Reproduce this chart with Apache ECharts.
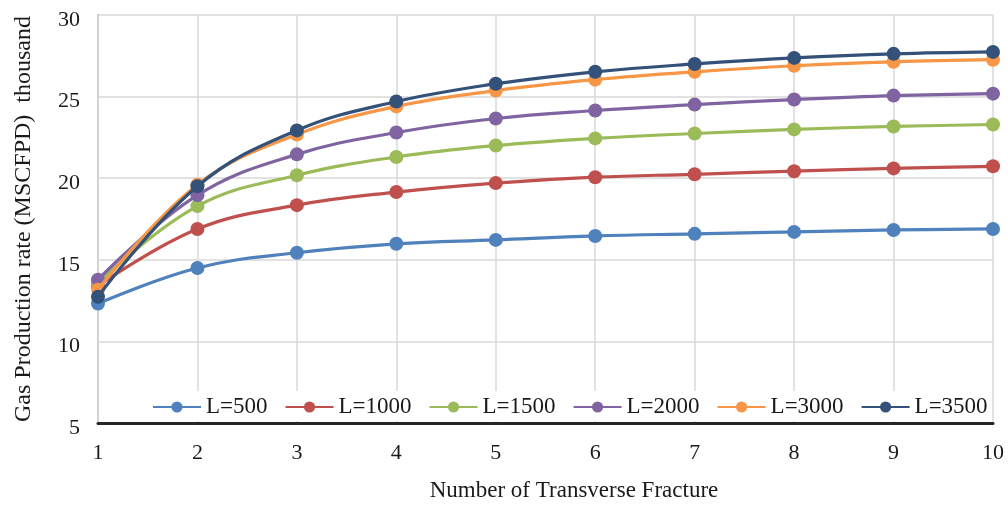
<!DOCTYPE html>
<html>
<head>
<meta charset="utf-8">
<script src="https://cdn.jsdelivr.net/npm/echarts@6/dist/echarts.min.js"></script>
<style>html,body{margin:0;padding:0;background:#fff;}#c{width:1008px;height:507px;}</style>
</head>
<body>
<div id="c"></div>
<script>
var categories = ['1','2','3','4','5','6','7','8','9','10'];
var seriesNames = ['L=500','L=1000','L=1500','L=2000','L=3000','L=3500'];
var L500  = [12.32, 14.50, 15.43, 15.98, 16.22, 16.46, 16.59, 16.71, 16.83, 16.89];
var L1000 = [13.40, 16.89, 18.35, 19.15, 19.70, 20.06, 20.24, 20.43, 20.60, 20.73];
var L1500 = [13.60, 18.29, 20.18, 21.30, 22.00, 22.44, 22.74, 22.99, 23.17, 23.29];
var L2000 = [13.78, 18.96, 21.46, 22.80, 23.66, 24.15, 24.51, 24.82, 25.06, 25.18];
var L3000 = [13.17, 19.60, 22.68, 24.40, 25.37, 26.04, 26.52, 26.89, 27.13, 27.26];
var L3500 = [12.74, 19.51, 22.93, 24.70, 25.79, 26.52, 27.00, 27.37, 27.62, 27.74];
var yTicks = {min: 5, max: 30, interval: 5};

var colors = ['#4f81bd','#c0504d','#9bbb59','#8064a2','#f79646','#34517a'];
var allData = [L500, L1000, L1500, L2000, L3000, L3500];
var font = '"Liberation Serif", "Times New Roman", serif';

var chart = echarts.init(document.getElementById('c'));
chart.setOption({
  animation: false,
  color: colors,
  grid: {left: 98, right: 15, top: 15, bottom: 82, containLabel: false},
  legend: {
    data: seriesNames,
    left: 148, top: 391,
    padding: [3, 4, 1, 4],
    backgroundColor: '#ffffff',
    itemWidth: 48, itemHeight: 14, itemGap: 17,
    textStyle: {fontFamily: font, fontSize: 23, color: '#1a1a1a', lineHeight: 26}
  },
  xAxis: {
    type: 'category',
    data: categories,
    boundaryGap: false,
    name: 'Number of Transverse Fracture',
    nameLocation: 'middle',
    nameGap: 56,
    nameTextStyle: {fontFamily: font, fontSize: 23, color: '#1a1a1a', padding: [0, 0, 0, 57], verticalAlign: 'top'},
    axisLine: {show: true, lineStyle: {color: '#262626', width: 3}},
    axisTick: {show: false},
    axisLabel: {fontFamily: font, fontSize: 22, color: '#1a1a1a', margin: 19},
    splitLine: {show: true, lineStyle: {color: '#d9d9d9', width: 1.5}},
    z: 3
  },
  yAxis: {
    type: 'value',
    min: yTicks.min, max: yTicks.max, interval: yTicks.interval,
    name: 'Gas Production rate (MSCFPD)  thousand',
    nameLocation: 'middle',
    nameGap: 62,
    nameRotate: 90,
    nameTextStyle: {fontFamily: font, fontSize: 24, color: '#1a1a1a'},
    axisLine: {show: true, lineStyle: {color: '#bfbfbf', width: 2}},
    axisTick: {show: false},
    axisLabel: {fontFamily: font, fontSize: 22, color: '#1a1a1a', margin: 18, verticalAlign: 'top', lineHeight: 10},
    splitLine: {show: true, lineStyle: {color: '#d9d9d9', width: 1.5}}
  },
  series: allData.map(function (d, i) {
    return {
      name: seriesNames[i],
      type: 'line',
      data: d,
      smooth: 0.4,
      symbol: 'circle',
      symbolSize: 14,
      lineStyle: {width: 3.2, color: colors[i]},
      itemStyle: {color: colors[i]},
      z: 4 + i
    };
  })
});
</script>
</body>
</html>
